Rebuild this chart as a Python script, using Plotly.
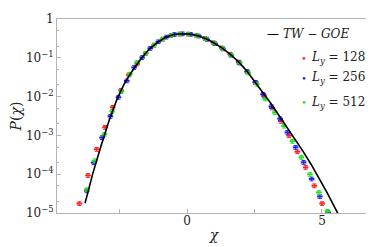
import plotly.graph_objects as go

# TW-GOE curve
tw_x = [-3.79, -3.5, -3.2, -2.9, -2.6, -2.3, -2.0, -1.7, -1.4, -1.1, -0.8, -0.5, -0.2,
        0.1, 0.4, 0.7, 1.0, 1.3, 1.6, 1.9, 2.2, 2.5, 2.8, 3.1, 3.4, 3.7, 4.0, 4.3,
        4.6, 4.9, 5.2, 5.56, 5.8]
tw_p = [1.78e-5, 1.05e-4, 5.25e-4, 2.40e-3, 8.71e-3, 0.0240, 0.0501, 0.0977, 0.170,
        0.251, 0.339, 0.398, 0.417, 0.407, 0.372, 0.309, 0.240, 0.178, 0.123, 0.0794,
        0.0468, 0.0251, 0.0132, 6.76e-3, 3.31e-3, 1.66e-3, 8.13e-4, 3.89e-4, 1.78e-4,
        7.76e-5, 3.24e-5, 1.07e-5, 5.01e-6]

# L_y = 128 (red)
red_x = [-4.0, -3.68, -3.357, -3.048, -2.762, -2.454, -2.167, -1.853, -1.54, -1.226,
         -0.912, -0.598, -0.285, 0.029, 0.343, 0.656, 0.97, 1.284, 1.597, 1.911, 2.224,
         2.538, 2.851, 3.149, 3.483, 3.781, 4.089, 4.394, 4.717, 5.007]
red_p = [1.76e-5, 9.31e-5, 4.38e-4, 1.62e-3, 5.32e-3, 0.0146, 0.0364, 0.0695, 0.131,
         0.213, 0.303, 0.378, 0.411, 0.409, 0.378, 0.318, 0.246, 0.181, 0.124, 0.0780,
         0.0445, 0.0232, 0.01067, 5.11e-3, 2.31e-3, 9.89e-4, 3.81e-4, 1.50e-4, 5.05e-5,
         1.76e-5]

# L_y = 256 (blue)
blue_x = [-3.729, -3.468, -3.160, -2.848, -2.550, -2.242, -1.970, -1.67, -1.37, -1.07,
          -0.77, -0.47, -0.17, 0.13, 0.43, 0.73, 1.03, 1.33, 1.63, 1.93, 2.23, 2.53,
          2.814, 3.123, 3.446, 3.717, 4.022, 4.320, 4.617, 4.922, 5.230]
blue_p = [3.75e-5, 1.98e-4, 8.77e-4, 3.12e-3, 9.64e-3, 0.0255, 0.0565, 0.102, 0.176,
          0.260, 0.344, 0.400, 0.417, 0.404, 0.365, 0.301, 0.233, 0.171, 0.118, 0.0753,
          0.0440, 0.0235, 0.01153, 5.55e-3, 2.69e-3, 1.20e-3, 4.93e-4, 2.02e-4, 7.57e-5,
          2.67e-5, 1.03e-5]

# L_y = 512 (green)
green_x = [-3.72, -3.420, -3.071, -2.788, -2.439, -2.130, -1.859, -1.542, -1.225, -0.907,
           -0.590, -0.273, 0.045, 0.362, 0.679, 0.997, 1.314, 1.631, 1.949, 2.266, 2.583,
           2.900, 3.249, 3.595, 3.900, 4.238, 4.554, 4.885, 5.204]
green_p = [3.98e-5, 2.23e-4, 1.07e-3, 4.12e-3, 0.01355, 0.0379, 0.0760, 0.131, 0.213,
           0.305, 0.379, 0.412, 0.409, 0.376, 0.313, 0.240, 0.175, 0.117, 0.0728, 0.0408,
           0.0210, 8.73e-3, 3.91e-3, 1.74e-3, 7.05e-4, 2.72e-4, 9.89e-5, 3.39e-5, 1.11e-5]

series = [("128", red_x, red_p, "#ff2020"),
          ("256", blue_x, blue_p, "#2020ff"),
          ("512", green_x, green_p, "#20e020")]

x_ticks = [-2.5, 0, 2.5, 5]
x_ticktext = ["", "0", "", "5"]
y_ticks = [1e-5, 1e-4, 1e-3, 1e-2, 1e-1, 1]
y_ticktext = ["10<sup>−5</sup>", "10<sup>−4</sup>", "10<sup>−3</sup>",
              "10<sup>−2</sup>", "10<sup>−1</sup>", "1"]

FONT = "DejaVu Serif"
AX = "#b4b4b4"
TXT = "#222"

fig = go.Figure()
for name, xs, ps, col in series:
    fig.add_trace(go.Scatter(
        x=xs, y=ps, mode="markers", name="L_y = " + name, showlegend=False,
        marker=dict(symbol="line-ew", size=4, color=col, line=dict(width=2, color=col)),
        error_y=dict(type="percent", value=11, color=col, thickness=1, width=2),
    ))

fig.add_trace(go.Scatter(
    x=tw_x, y=tw_p, mode="lines", name="TW − GOE", showlegend=False,
    line=dict(color="black", width=1.6),
))

# legend as text
ann = [
    dict(x=0.662, y=0.9226, text="—", font=dict(size=12, color="black")),
    dict(x=0.714, y=0.9226, text="<i>TW</i> − <i>GOE</i>", font=dict(size=12, color=TXT)),
]
rows = [0.7987, 0.6952, 0.5686]
for (name, xs, ps, col), yy in zip(series, rows):
    ann.append(dict(x=0.770, y=yy, text="•", font=dict(size=10, color=col)))
    ann.append(dict(x=0.802, y=yy, text="<i>L<sub>y</sub></i> = " + name,
                    font=dict(size=12, color=TXT)))
for a in ann:
    a.update(xref="paper", yref="paper", xanchor="left", yanchor="middle", showarrow=False)

fig.update_layout(
    width=374, height=247,
    margin=dict(l=49, r=11, t=11, b=42),
    paper_bgcolor="white", plot_bgcolor="white",
    font=dict(family=FONT, size=12, color=TXT),
    annotations=ann,
    showlegend=False,
)
fig.update_xaxes(
    range=[-4.83, 6.82], tickvals=x_ticks, ticktext=x_ticktext,
    ticks="inside", ticklen=4, tickcolor=AX, showline=True, linecolor=AX, linewidth=1,
    mirror=True, showgrid=False, zeroline=False, automargin=False,
    tickfont=dict(size=12), ticklabelstandoff=-3,
    title=dict(text="<i>χ</i>", font=dict(size=14), standoff=2),
)
fig.update_yaxes(
    type="log", range=[-5, 0], tickvals=y_ticks, ticktext=y_ticktext,
    ticks="inside", ticklen=4, tickcolor=AX, showline=True, linecolor=AX, linewidth=1,
    mirror=True, showgrid=False, zeroline=False, automargin=False,
    tickfont=dict(size=12),
    minor=dict(ticks="inside", ticklen=2, tickcolor=AX, showgrid=False),
    title=dict(text="<i>P</i>(<i>χ</i>)", font=dict(size=14), standoff=4),
)

fig.write_html("out.html")
